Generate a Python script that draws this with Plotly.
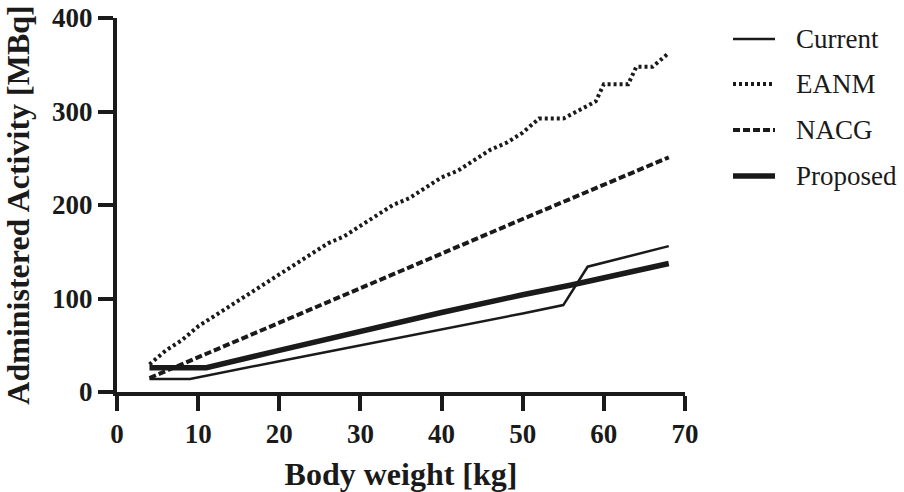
import plotly.graph_objects as go

# ---- data ----
weight_current = [4, 9, 20, 30, 40, 50, 55, 58, 68]
act_current = [14, 14, 33, 50, 66.5, 84, 93, 134, 156]

weight_eanm = [4, 6, 8, 10, 12, 14, 16, 18, 20, 22, 24, 26, 28, 30, 32, 34, 36, 38,
               40, 42, 44, 46, 48, 50, 52, 55, 59, 60, 63, 64, 66, 68]
act_eanm = [29.5, 44.3, 55.4, 70.2, 81.3, 92.5, 103.6, 114.7, 125.9, 137.0, 147.9,
            159.0, 166.5, 177.7, 188.8, 200.0, 207.2, 218.3, 229.5, 236.7, 247.9,
            259.0, 266.5, 277.4, 292.4, 292.4, 310.8, 329.2, 329.2, 347.8, 347.8, 362.6]

weight_nacg = [4, 10, 20, 30, 40, 50, 60, 68]
act_nacg = [15, 37, 74, 111, 148, 185, 222, 251]

weight_proposed = [4, 11, 20, 30, 40, 50, 56, 68]
act_proposed = [26, 26, 44.5, 65, 85, 104, 114.5, 137.5]

series_names = ["Current", "EANM", "NACG", "Proposed"]
x_ticks = [0, 10, 20, 30, 40, 50, 60, 70]
y_ticks = [0, 100, 200, 300, 400]

FONT = "Liberation Serif"
INK = "#1a1a1a"
styles = {
    "Current": dict(color=INK, width=2.5, dash="solid"),
    "EANM": dict(color=INK, width=4, dash="3px,3px"),
    "NACG": dict(color=INK, width=4, dash="7px,3px"),
    "Proposed": dict(color=INK, width=5.5, dash="solid"),
}
data = {
    "Current": (weight_current, act_current),
    "EANM": (weight_eanm, act_eanm),
    "NACG": (weight_nacg, act_nacg),
    "Proposed": (weight_proposed, act_proposed),
}

fig = go.Figure()
for name in series_names:
    xs, ys = data[name]
    fig.add_trace(go.Scatter(x=xs, y=ys, mode="lines", name=name,
                             line=styles[name], showlegend=False))

# ---- custom legend (samples + text) ----
ML, MT, PW, PH = 117, 18, 568, 374
def px_to_paper_x(px):
    return (px - ML) / PW
def px_to_paper_y(py):
    return (MT + PH - py) / PH

legend_y = [39, 84, 130, 176]
for name, py in zip(series_names, legend_y):
    fig.add_shape(type="line", xref="paper", yref="paper",
                  x0=px_to_paper_x(733), x1=px_to_paper_x(775),
                  y0=px_to_paper_y(py), y1=px_to_paper_y(py),
                  line=styles[name])
    fig.add_annotation(xref="paper", yref="paper", x=px_to_paper_x(794),
                       y=px_to_paper_y(py), text=name, showarrow=False,
                       xanchor="left", yanchor="middle",
                       font=dict(family=FONT, size=27, color=INK))

axis_common = dict(
    showgrid=False, zeroline=False, showline=True, linewidth=4, linecolor=INK,
    ticks="outside", ticklen=15, tickwidth=4, tickcolor=INK, automargin=False,
    tickfont=dict(family=FONT, size=27, color=INK, weight="bold"),
)

fig.update_layout(
    width=904, height=492,
    margin=dict(l=ML, r=904 - ML - PW, t=MT, b=492 - MT - PH),
    paper_bgcolor="white", plot_bgcolor="white",
    xaxis=dict(range=[0, 70], tickvals=x_ticks, **axis_common,
               title=dict(text="Body weight [kg]", standoff=15,
                          font=dict(family=FONT, size=32, color=INK, weight="bold"))),
    yaxis=dict(range=[0, 400], tickvals=y_ticks, **axis_common,
               title=dict(text="Administered Activity [MBq]", standoff=17,
                          font=dict(family=FONT, size=32, color=INK, weight="bold"))),
    showlegend=False,
)

fig.write_html("out.html", config={"displayModeBar": False},
               post_script="document.body.style.margin='0px';")
